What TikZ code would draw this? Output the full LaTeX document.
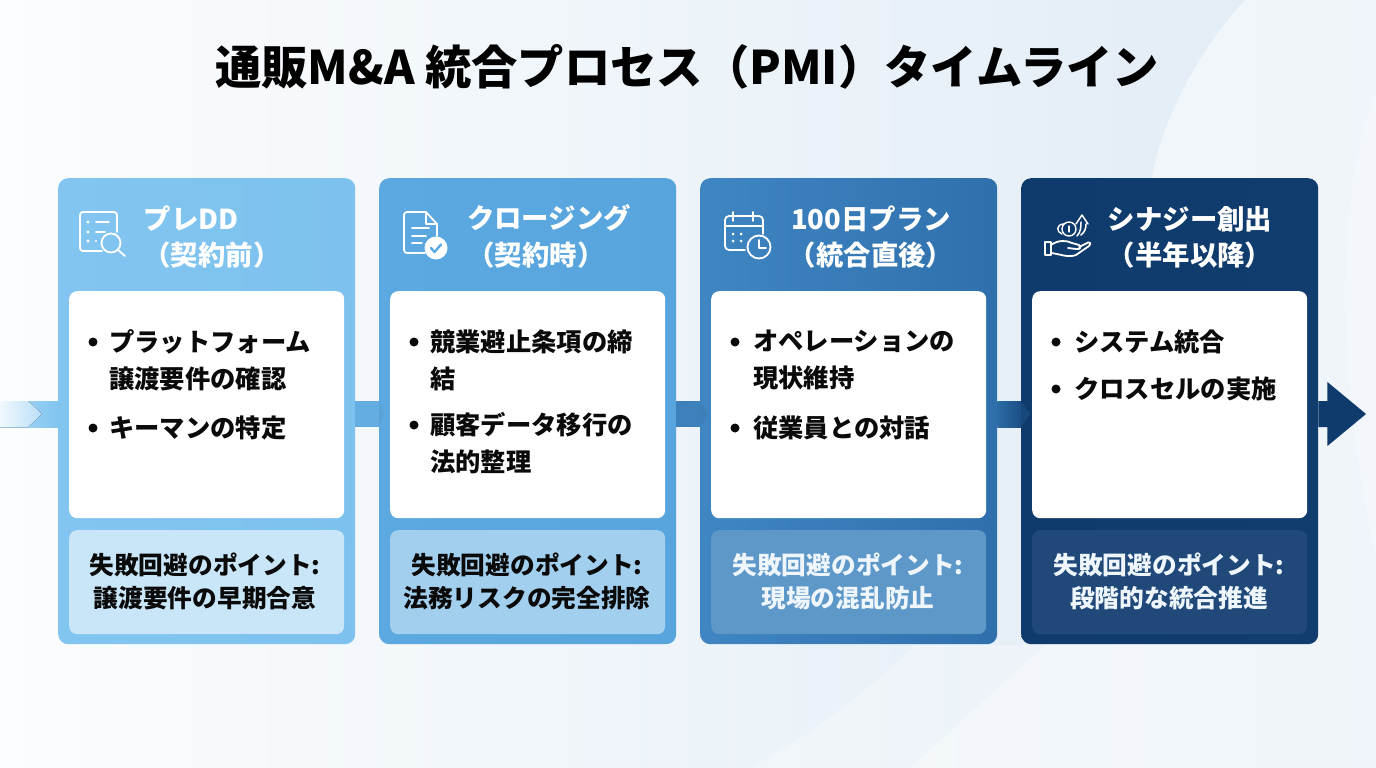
\documentclass[tikz,border=0pt]{standalone}
\usepackage{fontspec}
\setmainfont{Noto Sans CJK JP}
\usetikzlibrary{calc}
\definecolor{cA}{HTML}{82C5F0}
\definecolor{cAb}{HTML}{7DC1EE}
\definecolor{cB}{HTML}{5BA9E0}
\definecolor{cBb}{HTML}{58A5DD}
\definecolor{cC}{HTML}{3F86C3}
\definecolor{cCb}{HTML}{2F70AC}
\definecolor{cD}{HTML}{0F3B6C}
\definecolor{cDb}{HTML}{103C6E}
\definecolor{nA}{HTML}{C9E5F8}
\definecolor{nB}{HTML}{A3CFEE}
\definecolor{nC}{HTML}{5E98C9}
\definecolor{nD}{HTML}{20497A}
\definecolor{ink}{HTML}{0A0A0A}
\definecolor{lite}{HTML}{EEF6FC}
\definecolor{bgL}{HTML}{FBFDFE}
\definecolor{bgR}{HTML}{E0EBF5}
\tikzset{
  x=1pt,y=-1pt,
  cardbox/.style={rounded corners=10pt,minimum width=297pt,minimum height=466pt,inner sep=0pt,anchor=north west},
  panel/.style={fill=white,rounded corners=8pt,minimum width=275pt,minimum height=227pt,inner sep=0pt,anchor=north west},
  notebox/.style={rounded corners=8pt,minimum width=275pt,minimum height=104pt,inner sep=0pt,anchor=north west},
  titletext/.style={font=\fontsize{46.3}{56}\selectfont\bfseries,text=black,inner sep=0pt},
  headtext/.style={font=\fontsize{27.4}{32}\selectfont\bfseries,text=white,inner sep=0pt},
  itemtext/.style={font=\fontsize{25.3}{37}\selectfont\bfseries,text=ink,align=left,anchor=west,inner sep=0pt},
  dot/.style={circle,fill=ink,minimum size=9pt,inner sep=0pt},
  notetext/.style={font=\fontsize{24.7}{33}\selectfont\bfseries,align=center,inner sep=0pt},
  icon/.style={draw=white,line width=1.8pt,line cap=round,line join=round,fill=none},
}
\begin{document}
\begin{tikzpicture}
\useasboundingbox (0,0) rectangle (1376,768);
% background
\shade[left color=bgL,right color=bgR] (0,0) rectangle (1376,768);
\fill[white,opacity=.5] (1245,0) .. controls (1190,60) and (1160,130) .. (1152,178) .. controls (1130,400) and (1100,590) .. (1045,645) -- (910,768) -- (1376,768) -- (1376,0) -- cycle;
\fill[white,opacity=.25] (915,645) .. controls (880,680) and (820,730) .. (750,768) -- (910,768) -- (1045,645) -- cycle;
\fill[white,opacity=.25] (1376,90) .. controls (1340,180) and (1330,350) .. (1376,560) -- cycle;
% title
\node[titletext] (title) at (687,67) {通販M\&A 統合プロセス（PMI）タイムライン};
% cards
\node[cardbox,left color=cA,right color=cAb] (c1) at (58,178) {};
\node[cardbox,left color=cB,right color=cBb] (c2) at (379,178) {};
\node[cardbox,left color=cC,right color=cCb] (c3) at (700,178) {};
\node[cardbox,left color=cD,right color=cDb] (c4) at (1021,178) {};
% connector anchors
\coordinate (start) at (0,414);
\coordinate (a1) at (c1.west |- start);
\coordinate (b1) at (c1.east |- start);
\coordinate (a2) at (c2.west |- start);
\coordinate (b2) at (c2.east |- start);
\coordinate (a3) at (c3.west |- start);
\coordinate (b3) at (c3.east |- start);
\coordinate (a4) at (c4.west |- start);
\coordinate (b4) at (c4.east |- start);
\coordinate (tip) at (1366,414);
% connectors
\shade[left color=cA!65!white,right color=cA] ($(start)+(0,-13)$) rectangle ($(a1)+(0,13)$);
\fill[left color=white!88!cA,right color=white!45!cA] (0,401) -- (28,401) -- (42,414) -- (28,427) -- (0,427) -- cycle;
\fill[cB!95!white] ($(b1)+(0,-13)$) rectangle ($(a2)+(0,13)$);
\fill[cB!96!black] ($(a2)+(0,-13)$) -- ($(a2)+(5,0)$) -- ($(a2)+(0,13)$) -- cycle;
\fill[cC!96!black] ($(b2)+(0,-13)$) rectangle ($(a3)+(0,13)$);
\fill[cC!95!black] ($(a3)+(0,-13)$) -- ($(a3)+(8,0)$) -- ($(a3)+(0,13)$) -- cycle;
\shade[left color=cCb!90!cD,right color=cD!62!cCb] ($(b3)+(0,-13)$) rectangle ($(a4)+(0,13)$);
\fill[cD!75!cCb] ($(a4)+(0,-13)$) -- ($(a4)+(9,0)$) -- ($(a4)+(0,13)$) -- cycle;
\fill[cD] ($(b4)+(0,-13)$) -- ($(b4)+(9,-13)$) -- ($(b4)+(9,-32)$) -- (tip) -- ($(b4)+(9,32)$) -- ($(b4)+(9,13)$) -- ($(b4)+(0,13)$) -- cycle;
% white panels
\node[panel] (p1) at (69,291) {};
\node[panel] (p2) at (390,291) {};
\node[panel] (p3) at (711,291) {};
\node[panel] (p4) at (1032,291) {};
% note panels
\node[notebox,fill=nA] (n1) at (69,530) {};
\node[notebox,fill=nB] (n2) at (390,530) {};
\node[notebox,fill=nC] (n3) at (711,530) {};
\node[notebox,fill=nD] (n4) at (1032,530) {};
% heads
\node[headtext] (h1a) at (191,219) {プレDD};
\node[headtext] (h1b) at (212,255) {（契約前）};
\node[headtext] (h2a) at (549,218) {クロージング};
\node[headtext] (h2b) at (536,255) {（契約時）};
\node[headtext] (h3a) at (871,219) {100日プラン};
\node[headtext] (h3b) at (871,255) {（統合直後）};
\node[headtext] (h4a) at (1190,219) {シナジー創出};
\node[headtext] (h4b) at (1190,255) {（半年以降）};
% items
\node[dot] (d11) at (93,342) {};
\node[itemtext] (i11) at (109,360.5) {プラットフォーム\\譲渡要件の確認};
\node[dot] (d12) at (93,428) {};
\node[itemtext] (i12) at (109,427.5) {キーマンの特定};
\node[dot] (d21) at (414,342) {};
\node[itemtext] (i21) at (430,360.5) {競業避止条項の締\\結};
\node[dot] (d22) at (414,425) {};
\node[itemtext] (i22) at (430,443.5) {顧客データ移行の\\法的整理};
\node[dot] (d31) at (735,342) {};
\node[itemtext] (i31) at (753,360.5) {オペレーションの\\現状維持};
\node[dot] (d32) at (735,428) {};
\node[itemtext] (i32) at (753,427.5) {従業員との対話};
\node[dot] (d41) at (1056,342) {};
\node[itemtext] (i41) at (1074,342) {システム統合};
\node[dot] (d42) at (1056,389) {};
\node[itemtext] (i42) at (1074,389) {クロスセルの実施};
% notes
\node[notetext,text=ink] (t1) at (205,581.5) {失敗回避のポイント:\\譲渡要件の早期合意};
\node[notetext,text=ink] (t2) at (527,581.5) {失敗回避のポイント:\\法務リスクの完全排除};
\node[notetext,text=lite] (t3) at (848,581.5) {失敗回避のポイント:\\現場の混乱防止};
\node[notetext,text=lite] (t4) at (1169,581.5) {失敗回避のポイント:\\段階的な統合推進};
% icon 1: document with magnifier
\draw[icon] (102,251) -- (83,251) arc[start angle=90,end angle=180,radius=3] -- (80,215) arc[start angle=180,end angle=270,radius=3] -- (114,212) arc[start angle=270,end angle=360,radius=3] -- (117,232);
\draw[icon] (96,222) -- (109,222) (96,232) -- (105,232);
\fill[white] (88,222) circle (1.6) (88,232) circle (1.6) (88,241) circle (1.6) (96,241) circle (1.2);
\draw[icon] (111,243) circle (9.5);
\draw[icon] (118,250) -- (125,256);
% icon 2: document with check
\draw[icon] (425,253) -- (407,253) arc[start angle=90,end angle=180,radius=3] -- (404,215) arc[start angle=180,end angle=270,radius=3] -- (426,212) -- (437,224) -- (437,236);
\draw[icon] (426,212) -- (426,224) -- (437,224);
\draw[icon] (412,228) -- (429,228) (412,236) -- (426,236) (412,243) -- (422,243);
\fill[white] (436,248) circle (11.5);
\draw[cB,line width=2.4pt,line cap=round,line join=round] (431,248) -- (434.5,252) -- (441,244.5);
% icon 3: calendar with clock
\draw[icon] (745,250) -- (729,250) arc[start angle=90,end angle=180,radius=4] -- (725,220) arc[start angle=180,end angle=270,radius=4] -- (759,216) arc[start angle=270,end angle=360,radius=4] -- (763,234);
\draw[icon] (725,226) -- (763,226);
\draw[icon] (733,212) -- (733,221) (753,212) -- (753,221);
\fill[white] (733,234) circle (1.5) (741,234) circle (1.5) (733,241) circle (1.5) (741,241) circle (1.5);
\draw[icon] (759,247) circle (11.5);
\draw[icon] (759,240) -- (759,248) -- (766,248);
% icon 4: hand with coins and arrow
\draw[icon] (1045,242) rectangle (1051,255);
\draw[icon] (1051,245) .. controls (1058,240) and (1066,240) .. (1072,243) -- (1079,245) .. controls (1082,247) and (1080,250) .. (1076,249) -- (1068,248);
\draw[icon] (1079,247) -- (1088,242.5) .. controls (1091,242) and (1091,245) .. (1089,246) -- (1076,255) .. controls (1068,258) and (1060,254) .. (1051,253);
\draw[icon,line width=1.4pt] (1069,229) circle (7);
\draw[icon,line width=1.4pt] (1064,224) .. controls (1056,224) and (1056,232) .. (1062,234);
\draw[icon,line width=1.2pt] (1069,226) -- (1069,232);
\draw[icon,line width=1.5pt] (1077,236) .. controls (1081,232) and (1081,226) .. (1081,222) (1076,224) -- (1082,215) -- (1088,224) (1086,224) .. controls (1086,228) and (1085,232) .. (1081,235);
\end{tikzpicture}
\end{document}
